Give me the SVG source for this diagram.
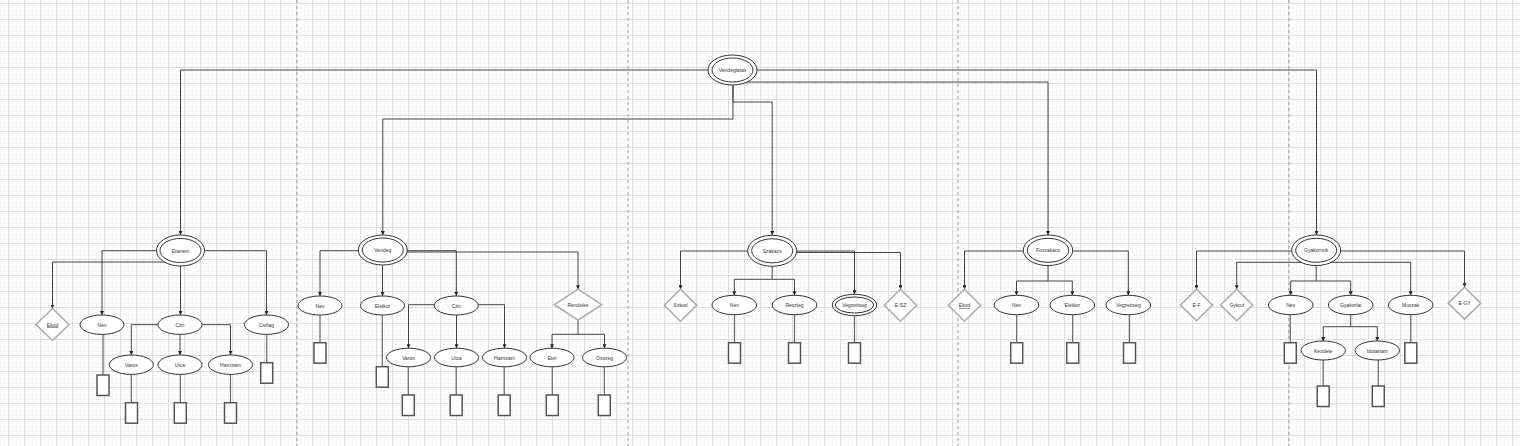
<svg xmlns="http://www.w3.org/2000/svg" width="1520" height="446" viewBox="0 0 1520 446">
<defs>
<pattern id="minor" x="0" y="3" width="4" height="4" patternUnits="userSpaceOnUse">
<path d="M0,0 H4 M0,0 V4" fill="none" stroke="#f1f1f1" stroke-width="1"/>
</pattern>
<pattern id="major" x="8" y="3" width="16" height="16" patternUnits="userSpaceOnUse">
<path d="M0,0.5 H16 M0.5,0 V16" fill="none" stroke="#dddddd" stroke-width="1"/>
</pattern>
<marker id="arr" viewBox="0 0 4 4" refX="4" refY="2" markerWidth="4" markerHeight="4" markerUnits="userSpaceOnUse" orient="auto">
<path d="M0,0 L4,2 L0,4 z" fill="#222"/>
</marker>
<style>
.e{fill:#fff;stroke:#333;stroke-width:1}
.d{fill:#fff;stroke:#aaa;stroke-width:1.5}
.r{fill:#fff;stroke:#555;stroke-width:1.5}
.c{fill:none;stroke:#444;stroke-width:1}
.l{fill:none;stroke:#666;stroke-width:1.2}
.a{marker-end:url(#arr)}
.sep{stroke:#999;stroke-width:1;stroke-dasharray:3 3}
.t{font-family:"Liberation Sans",Arial,sans-serif;font-size:5px;fill:#333;text-anchor:middle;dominant-baseline:central}
.u{text-decoration:underline}
</style>
</defs>
<rect width="1520" height="446" fill="#fff"/>
<rect width="1520" height="446" fill="url(#minor)"/>
<rect width="1520" height="446" fill="url(#major)"/>
<g id="separators">
<line class="sep" x1="297" y1="0" x2="297" y2="446"/>
<line class="sep" x1="628" y1="0" x2="628" y2="446"/>
<line class="sep" x1="958" y1="0" x2="958" y2="446"/>
<line class="sep" x1="1289" y1="0" x2="1289" y2="446"/>
</g>
<g id="connectors">
<path class="c a" d="M732.5,70 H180.5 V235"/>
<path class="c a" d="M732.5,70 H1316.5 V235"/>
<path class="c a" d="M732.5,82 H1048 V235"/>
<path class="c a" d="M733,85 V119 H382.8 V235"/>
<path class="c a" d="M733,85 V102 H772.2 V235"/>
<path class="c a" d="M180.5,250.7 H102 V315"/>
<path class="c a" d="M180.5,262 H52.5 V308.5"/>
<path class="c a" d="M180.5,266 V315"/>
<path class="c a" d="M180.5,250.7 H266.5 V315"/>
<path class="c a" d="M180,324.7 H131.3 V355"/>
<path class="c a" d="M180,334.4 V355"/>
<path class="c a" d="M180,324.7 H230.5 V355"/>
<path class="l" d="M103,334 V375 M131.3,374 V402.7 M180.3,374 V402.7 M230.5,374 V402.7 M266.7,334 V362.7"/>
<path class="c a" d="M382.8,250.7 H320 V296"/>
<path class="c a" d="M382.5,265 V296"/>
<path class="c a" d="M382.8,250.7 H456.3 V296"/>
<path class="c a" d="M382.8,252 H578 V289.2"/>
<path class="c a" d="M456.3,304.7 H408.5 V348.2"/>
<path class="c a" d="M456.5,315 V348.2"/>
<path class="c a" d="M456.3,304.7 H504.5 V348.2"/>
<path class="c a" d="M578,320.2 V334.3 H552 V348.2"/>
<path class="c a" d="M578,334.3 H604.5 V348.2"/>
<path class="l" d="M320,315 V342.7 M382.3,315 V366.7 M408.3,366.8 V395 M456.2,366.8 V395 M504.2,366.8 V395 M552.3,366.8 V395 M604.3,366.8 V395"/>
<path class="c a" d="M772.2,251 H680.5 V289.2"/>
<path class="c a" d="M772.2,266 V279.3 H734.3 V295.3"/>
<path class="c a" d="M772.2,279.3 H794.5 V295.3"/>
<path class="c a" d="M772.2,251 H854.5 V294.3"/>
<path class="c a" d="M772.2,252.5 H900.5 V289.2"/>
<path class="l" d="M734.5,314.7 V342.7 M794.5,314.7 V342.7 M854.5,315.7 V342.7"/>
<path class="c a" d="M1048,251 H964.5 V289.2"/>
<path class="c a" d="M1048,265.6 V281 H1016.5 V295.3"/>
<path class="c a" d="M1048,281 H1072.3 V295.3"/>
<path class="c a" d="M1048,251 H1128.3 V295.3"/>
<path class="l" d="M1016.7,314.7 V342.7 M1072.7,314.7 V342.7 M1129.5,314.7 V342.7"/>
<path class="c a" d="M1316.2,251 H1196.5 V289.2"/>
<path class="c a" d="M1316.2,262.3 H1236.7 V289.2"/>
<path class="c a" d="M1316.2,265.6 V281 H1290.7 V295.3"/>
<path class="c a" d="M1316.2,281 H1350.7 V295.3"/>
<path class="c a" d="M1316.2,262.3 H1410.7 V295.3"/>
<path class="c a" d="M1316.2,251 H1464.5 V287.3"/>
<path class="c a" d="M1350.7,314.7 V326.7 H1323.2 V341"/>
<path class="c a" d="M1350.7,326.7 H1377.3 V341"/>
<path class="l" d="M1290.3,314.7 V342.7 M1410.8,314.7 V342.7 M1323.2,360 V386 M1378.3,360 V386"/>
</g>
<g id="root">
<ellipse class="e" cx="732.5" cy="70" rx="24.5" ry="15"/>
<ellipse class="e" cx="732.5" cy="70" rx="20.5" ry="12"/>
<text class="t" x="732.5" y="70">Vendeglatas</text>
</g>
<g id="etterem">
<ellipse class="e" cx="180.5" cy="250.5" rx="24" ry="15.5"/>
<ellipse class="e" cx="180.5" cy="250.5" rx="20.5" ry="12"/>
<text class="t" x="180.5" y="250.5">Etterem</text>
</g>
<g id="etterem-ekod"><polygon class="d" points="52.5,308.5 69,324.5 52.5,340.5 36,324.5"/><text class="t u" x="52.5" y="324.5">Ekod</text></g>
<g id="etterem-nev"><ellipse class="e" cx="102" cy="324.7" rx="22" ry="9.7"/><text class="t" x="102" y="324.7">Nev</text></g>
<g id="etterem-cim"><ellipse class="e" cx="180" cy="324.7" rx="22" ry="9.7"/><text class="t" x="180" y="324.7">Cim</text></g>
<g id="etterem-csillag"><ellipse class="e" cx="266.5" cy="324.7" rx="22" ry="9.7"/><text class="t" x="266.5" y="324.7">Csillag</text></g>
<g id="etterem-varos"><ellipse class="e" cx="131.3" cy="364.7" rx="22" ry="9.7"/><text class="t" x="131.3" y="364.7">Varos</text></g>
<g id="etterem-utca"><ellipse class="e" cx="180" cy="364.7" rx="22" ry="9.7"/><text class="t" x="180" y="364.7">Utca</text></g>
<g id="etterem-hazszam"><ellipse class="e" cx="230.5" cy="364.7" rx="22" ry="9.7"/><text class="t" x="230.5" y="364.7">Hazszam</text></g>
<g id="etterem-values">
<rect class="r" x="97" y="375" width="12" height="20.5"/>
<rect class="r" x="125.5" y="402.7" width="12" height="20.5"/>
<rect class="r" x="174.3" y="402.7" width="12" height="20.5"/>
<rect class="r" x="224.5" y="402.7" width="12" height="20.5"/>
<rect class="r" x="260.7" y="362.7" width="12" height="20.5"/>
</g>
<g id="vendeg">
<ellipse class="e" cx="382.8" cy="250" rx="24.5" ry="15"/>
<ellipse class="e" cx="382.8" cy="250" rx="20.5" ry="12"/>
<text class="t" x="382.8" y="250">Vendeg</text>
</g>
<g id="vendeg-nev"><ellipse class="e" cx="320" cy="305.5" rx="22" ry="9.5"/><text class="t" x="320" y="305.5">Nev</text></g>
<g id="vendeg-eletkor"><ellipse class="e" cx="382.5" cy="305.5" rx="22" ry="9.5"/><text class="t" x="382.5" y="305.5">Eletkor</text></g>
<g id="vendeg-cim"><ellipse class="e" cx="456.3" cy="305.5" rx="22" ry="9.5"/><text class="t" x="456.3" y="305.5">Cim</text></g>
<g id="vendeg-rendeles"><polygon class="d" points="578,289.2 601.7,304.7 578,320.2 554.3,304.7"/><text class="t" x="578" y="304.7">Rendeles</text></g>
<g id="vendeg-varos"><ellipse class="e" cx="408.5" cy="357.5" rx="22" ry="9.3"/><text class="t" x="408.5" y="357.5">Varos</text></g>
<g id="vendeg-utca"><ellipse class="e" cx="456.5" cy="357.5" rx="22" ry="9.3"/><text class="t" x="456.5" y="357.5">Utca</text></g>
<g id="vendeg-hazszam"><ellipse class="e" cx="504.5" cy="357.5" rx="22" ry="9.3"/><text class="t" x="504.5" y="357.5">Hazszam</text></g>
<g id="vendeg-etel"><ellipse class="e" cx="552" cy="357.5" rx="22" ry="9.3"/><text class="t" x="552" y="357.5">Etel</text></g>
<g id="vendeg-osszeg"><ellipse class="e" cx="604.5" cy="357.5" rx="22" ry="9.3"/><text class="t" x="604.5" y="357.5">Osszeg</text></g>
<g id="vendeg-values">
<rect class="r" x="314" y="342.7" width="12" height="20.5"/>
<rect class="r" x="376.3" y="366.7" width="12" height="20.5"/>
<rect class="r" x="402.3" y="395" width="12" height="20.5"/>
<rect class="r" x="450.2" y="395" width="12" height="20.5"/>
<rect class="r" x="498.2" y="395" width="12" height="20.5"/>
<rect class="r" x="546.3" y="395" width="12" height="20.5"/>
<rect class="r" x="598.3" y="395" width="12" height="20.5"/>
</g>
<g id="szakacs">
<ellipse class="e" cx="772.2" cy="250.8" rx="24.5" ry="15.5"/>
<ellipse class="e" cx="772.2" cy="250.8" rx="20.5" ry="12"/>
<text class="t" x="772.2" y="250.8">Szakacs</text>
</g>
<g id="szakacs-szkod"><polygon class="d" points="680.5,289.2 696.7,305.2 680.5,321.2 664.3,305.2"/><text class="t" x="680.5" y="305.2">Szkod</text></g>
<g id="szakacs-nev"><ellipse class="e" cx="734.3" cy="305" rx="22.3" ry="9.7"/><text class="t" x="734.3" y="305">Nev</text></g>
<g id="szakacs-reszleg"><ellipse class="e" cx="794.5" cy="305" rx="22.3" ry="9.7"/><text class="t" x="794.5" y="305">Reszleg</text></g>
<g id="szakacs-vegzettseg">
<ellipse class="e" cx="854.5" cy="305" rx="22.2" ry="10.7"/>
<ellipse class="e" cx="854.5" cy="305" rx="19.2" ry="8"/>
<text class="t" x="854.5" y="305">Vegzettseg</text>
</g>
<g id="szakacs-esz"><polygon class="d" points="900.5,289.2 916.7,305.2 900.5,321.2 884.3,305.2"/><text class="t" x="900.5" y="305.2">E-SZ</text></g>
<g id="szakacs-values">
<rect class="r" x="728.5" y="342.7" width="12" height="20.5"/>
<rect class="r" x="788.5" y="342.7" width="12" height="20.5"/>
<rect class="r" x="848.5" y="342.7" width="12" height="20.5"/>
</g>
<g id="foszakacs">
<ellipse class="e" cx="1048" cy="250.3" rx="24.7" ry="15.3"/>
<ellipse class="e" cx="1048" cy="250.3" rx="20.7" ry="12"/>
<text class="t" x="1048" y="250.3">Foszakacs</text>
</g>
<g id="foszakacs-ekod"><polygon class="d" points="964.5,289.2 980.7,305.2 964.5,321.2 948.3,305.2"/><text class="t u" x="964.5" y="305.2">Ekod</text></g>
<g id="foszakacs-nev"><ellipse class="e" cx="1016.5" cy="305" rx="22.3" ry="9.7"/><text class="t" x="1016.5" y="305">Nev</text></g>
<g id="foszakacs-eletkor"><ellipse class="e" cx="1072.3" cy="305" rx="22.3" ry="9.7"/><text class="t" x="1072.3" y="305">Eletkor</text></g>
<g id="foszakacs-vegzettseg"><ellipse class="e" cx="1128.3" cy="305" rx="22.3" ry="9.7"/><text class="t" x="1128.3" y="305">Vegzettseg</text></g>
<g id="foszakacs-values">
<rect class="r" x="1010.7" y="342.7" width="12" height="20.5"/>
<rect class="r" x="1066.7" y="342.7" width="12" height="20.5"/>
<rect class="r" x="1123.5" y="342.7" width="12" height="20.5"/>
</g>
<g id="gyakornok">
<ellipse class="e" cx="1316.2" cy="250.3" rx="24.5" ry="15.3"/>
<ellipse class="e" cx="1316.2" cy="250.3" rx="20.5" ry="12"/>
<text class="t" x="1316.2" y="250.3">Gyakornok</text>
</g>
<g id="gyakornok-ef"><polygon class="d" points="1196.5,289.2 1212.5,305 1196.5,320.8 1180.5,305"/><text class="t" x="1196.5" y="305">E-F</text></g>
<g id="gyakornok-gykod"><polygon class="d" points="1236.7,289.2 1252.7,305 1236.7,320.8 1220.7,305"/><text class="t" x="1236.7" y="305">Gykod</text></g>
<g id="gyakornok-nev"><ellipse class="e" cx="1290.7" cy="305" rx="22.3" ry="9.7"/><text class="t" x="1290.7" y="305">Nev</text></g>
<g id="gyakornok-gyakorlat"><ellipse class="e" cx="1350.7" cy="305" rx="22.3" ry="9.7"/><text class="t" x="1350.7" y="305">Gyakorlat</text></g>
<g id="gyakornok-muszak"><ellipse class="e" cx="1410.7" cy="305" rx="22.3" ry="9.7"/><text class="t" x="1410.7" y="305">Muszak</text></g>
<g id="gyakornok-egy"><polygon class="d" points="1464.5,287.3 1480.7,303.2 1464.5,319.1 1448.3,303.2"/><text class="t" x="1464.5" y="303.2">E-GY</text></g>
<g id="gyakornok-kezdete"><ellipse class="e" cx="1323.2" cy="350.5" rx="22.2" ry="9.5"/><text class="t" x="1323.2" y="350.5">Kezdete</text></g>
<g id="gyakornok-idotartam"><ellipse class="e" cx="1377.3" cy="350.5" rx="22.2" ry="9.5"/><text class="t" x="1377.3" y="350.5">Idotartam</text></g>
<g id="gyakornok-values">
<rect class="r" x="1284.3" y="342.7" width="12" height="20.5"/>
<rect class="r" x="1404.8" y="342.7" width="12" height="20.5"/>
<rect class="r" x="1317.2" y="386" width="12" height="20.5"/>
<rect class="r" x="1372.3" y="386" width="12" height="20.5"/>
</g>
</svg>
